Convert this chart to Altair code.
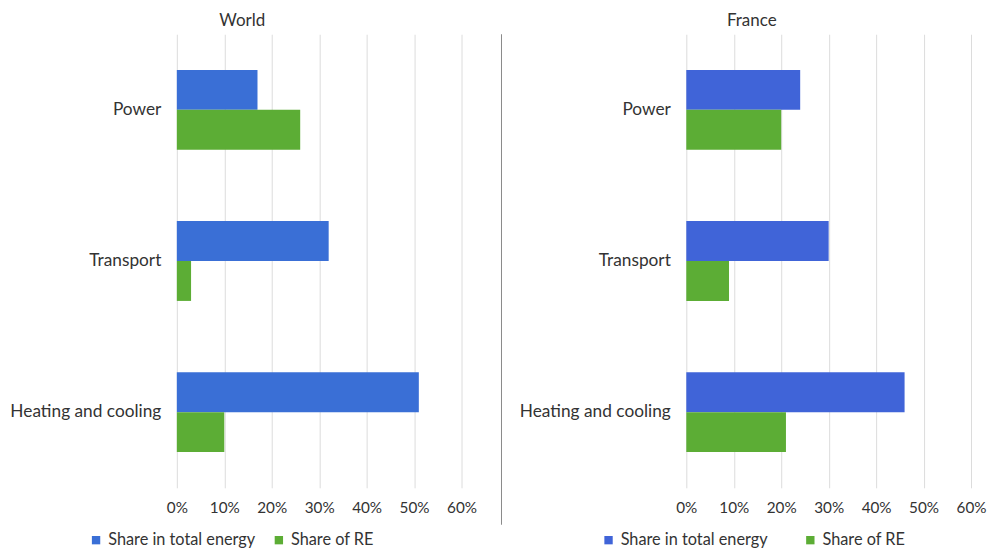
import altair as alt
import pandas as pd

sectors = ["Power", "Transport", "Heating and cooling"]
series = ["Share in total energy", "Share of RE"]
world_total = [0.17, 0.32, 0.51]
world_re = [0.26, 0.03, 0.10]
france_total = [0.24, 0.30, 0.46]
france_re = [0.20, 0.09, 0.21]
x_ticks = [0, 0.1, 0.2, 0.3, 0.4, 0.5, 0.6]

FONT = "Lato"
W, H = 285, 454


def panel(title, total, re, blue, col_pad, leg_x, sep=False):
    rows = []
    for s, t, r in zip(sectors, total, re):
        rows.append({"Sector": s, "Series": series[0], "Value": t})
        rows.append({"Sector": s, "Series": series[1], "Value": r})
    df = pd.DataFrame(rows)
    bars = alt.Chart(df).mark_bar().encode(
        y=alt.Y("Sector:N", sort=sectors,
                scale=alt.Scale(paddingInner=0.472, paddingOuter=0.236),
                axis=alt.Axis(title=None, domain=False, ticks=False, labelPadding=16,
                              labelFontSize=17.3, labelColor="#333333", labelFont=FONT,
                              labelLimit=300)),
        yOffset=alt.YOffset("Series:N", sort=series, scale=alt.Scale(paddingInner=0, paddingOuter=0)),
        x=alt.X("Value:Q", scale=alt.Scale(domain=[0, 0.6], nice=False),
                axis=alt.Axis(title=None, format=".0%", values=x_ticks, domain=False, ticks=False,
                              labelPadding=13, labelFontSize=15.3, labelColor="#333333",
                              labelFont=FONT, grid=True, gridColor="#dcdcdc",
                              labelFlush=False, labelOverlap=False)),
        color=alt.Color("Series:N", sort=series,
                        scale=alt.Scale(domain=series, range=[blue, "#5cad35"]),
                        legend=alt.Legend(orient="none", legendX=leg_x, legendY=498,
                                          direction="horizontal", title=None,
                                          symbolType="square", symbolSize=70,
                                          labelFontSize=16.3, labelFont=FONT,
                                          labelColor="#333333", columnPadding=col_pad,
                                          symbolOffset=0, labelOffset=4,
                                          labelLimit=300)),
    )
    layers = [bars]
    if sep:
        sep_df = pd.DataFrame({"k": [0]})
        rule = alt.Chart(sep_df).mark_rule(color="#8a8a8a", strokeWidth=1).encode(
            x=alt.value(-185), y=alt.value(0), y2=alt.value(491))
        layers.append(rule)
    return alt.layer(*layers).properties(
        width=W, height=H,
        title=alt.TitleParams(title, fontSize=17, font=FONT, color="#333333",
                              fontWeight="normal", frame="group", anchor="middle",
                              dx=-77, offset=4),
    ).resolve_scale(color="independent")


world = panel("World", world_total, world_re, "#3a6fd6", 15, -89)
france = panel("France", france_total, france_re, "#4064d8", 34, -86, sep=True)

chart = alt.hconcat(world, france, spacing=225, bounds="flush").resolve_scale(
    color="independent").configure_view(stroke=None).properties(
    padding={"left": 1, "right": 0, "top": 3, "bottom": 0})

chart.save("out.html", embed_options={"renderer": "svg", "actions": False})
